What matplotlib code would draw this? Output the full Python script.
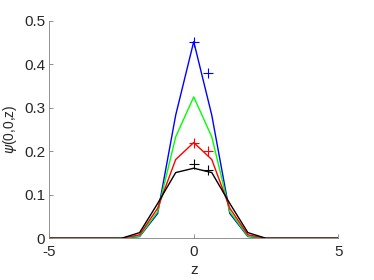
import numpy as np
import matplotlib
matplotlib.use('Agg')
import matplotlib.pyplot as plt

plt.rcParams['font.family'] = ['Liberation Sans', 'DejaVu Sans']
plt.rcParams['mathtext.fontset'] = 'dejavusans'
plt.rcParams['axes.unicode_minus'] = False

# grid of z values
z = [-5, -4.375, -3.75, -3.125, -2.5, -1.875, -1.25, -0.625, 0,
     0.625, 1.25, 1.875, 2.5, 3.125, 3.75, 4.375, 5]

# wavefunction along z axis for four cases
psi_blue = [0, 0, 0, 0, 0, 0.004, 0.057, 0.283, 0.452, 0.283, 0.057, 0.004, 0, 0, 0, 0, 0]
psi_green = [0, 0, 0, 0, 0, 0.005, 0.061, 0.233, 0.325, 0.233, 0.061, 0.005, 0, 0, 0, 0, 0]
psi_red = [0, 0, 0, 0, 0, 0.008, 0.069, 0.181, 0.220, 0.181, 0.069, 0.008, 0, 0, 0, 0, 0]
psi_black = [0, 0, 0, 0, 0, 0.013, 0.080, 0.151, 0.161, 0.151, 0.080, 0.013, 0, 0, 0, 0, 0]

# reference points (plus markers)
ref_z = [0, 0.5]
ref_blue = [0.452, 0.379]
ref_red = [0.220, 0.200]
ref_black = [0.170, 0.157]

fig = plt.figure(figsize=(3.74, 2.8), dpi=100)
ax = fig.add_axes([0.132, 0.149, 0.772, 0.777])

ax.plot(z, psi_blue, color='#0000ff', lw=1.0)
ax.plot(z, psi_green, color='#00ff00', lw=1.0)
ax.plot(z, psi_red, color='#ff0000', lw=1.0)
ax.plot(z, psi_black, color='black', lw=1.0)

ax.plot(ref_z, ref_blue, '+', color='#0000ff', ms=7, mew=0.8)
ax.plot(ref_z, ref_red, '+', color='#ff0000', ms=7, mew=0.8)
ax.plot(ref_z, ref_black, '+', color='black', ms=7, mew=0.8)

ax.set_xlim(-5, 5)
ax.set_ylim(0, 0.5)
ax.set_xticks([-5, 0, 5])
ax.set_xticklabels(['-5', '0', '5'])
ax.set_yticks([0, 0.1, 0.2, 0.3, 0.4, 0.5])
ax.set_yticklabels(['0', '0.1', '0.2', '0.3', '0.4', '0.5'])

for s in ['top', 'right']:
    ax.spines[s].set_visible(False)
for s in ['left', 'bottom']:
    ax.spines[s].set_color('#808080')
    ax.spines[s].set_linewidth(0.6)
ax.tick_params(direction='in', length=3, width=0.6, color='#808080',
               labelsize=11, labelcolor='#262626')
ax.tick_params(axis='x', pad=5)
ax.tick_params(axis='y', pad=3)

ax.set_xlabel('z', fontsize=11, color='#262626', labelpad=3)
ax.set_ylabel(r'$\psi$(0,0,z)', fontsize=10, color='#262626', labelpad=4)

fig.savefig('out.png', dpi=100)
